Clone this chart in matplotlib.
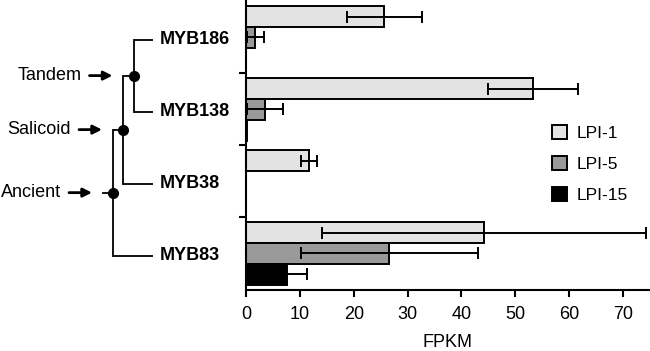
import numpy as np
import matplotlib
matplotlib.use("Agg")
import matplotlib.pyplot as plt
from matplotlib.patches import Patch

plt.rcParams['font.family'] = ['Liberation Sans', 'DejaVu Sans']

# data (FPKM, mean and sd)
genes = ['MYB186', 'MYB138', 'MYB38', 'MYB83']
series = ['LPI-1', 'LPI-5', 'LPI-15']
lpi1 = [25.7, 53.3, 11.7, 44.2]
lpi1_sd = [6.9, 8.3, 1.4, 30.1]
lpi5 = [1.75, 3.5, 0.0, 26.6]
lpi5_sd = [1.5, 3.4, 0.0, 16.4]
lpi15 = [0.0, 0.15, 0.0, 7.7]
lpi15_sd = [0.0, 0.0, 0.0, 3.6]
colors = ['#e3e3e3', '#999999', '#000000']

# tree: (node label, child a, child b)
nodes = [('Tandem', 'MYB186', 'MYB138'),
         ('Salicoid', 'Tandem', 'MYB38'),
         ('Ancient', 'Salicoid', 'MYB83')]
node_x = {'Tandem': 133.5, 'Salicoid': 123, 'Ancient': 113}
leaf_x = 153

W, H = 650, 351
fig = plt.figure(figsize=(W / 100, H / 100), dpi=100)
ax = fig.add_axes([246 / W, (H - 290) / H, (W - 246) / W, 290 / H])
tree = fig.add_axes([0, (H - 290) / H, 246 / W, 290 / H], sharey=ax)

# bars
y = np.arange(len(genes))
bh = 0.29
vals = [lpi1, lpi5, lpi15]
sds = [lpi1_sd, lpi5_sd, lpi15_sd]
for k, (v, sd, c) in enumerate(zip(vals, sds, colors)):
    yy = y + (k - 1) * bh
    ax.barh(yy, v, height=bh, color=c, edgecolor='black', linewidth=1.4, zorder=2)
    v = np.array(v); sd = np.array(sd)
    m = sd > 0
    ax.errorbar(v[m], yy[m], xerr=sd[m], fmt='none', ecolor='black',
                elinewidth=1.4, capsize=4.5, capthick=1.4, zorder=3)

ax.set_ylim(3.507, -0.52)
ax.set_xlim(0, 75)
ax.set_xticks(range(0, 80, 10))
ax.set_yticks(y[:-1] + 0.5)
ax.set_yticklabels([])
for s in ['top', 'right']:
    ax.spines[s].set_visible(False)
for s in ['left', 'bottom']:
    ax.spines[s].set_linewidth(1.5)
ax.tick_params(axis='both', width=1.5, length=5, labelsize=13, direction='out')
ax.tick_params(axis='x', pad=6.5)
ax.set_xlabel('FPKM', fontsize=13, labelpad=8)

handles = [Patch(facecolor=c, edgecolor='black', linewidth=1.4) for c in colors]
ax.legend(handles, series, loc='upper left', bbox_to_anchor=(0.757, 0.568),
          frameon=False, fontsize=12.5, handlelength=0.85, handleheight=0.85,
          handletextpad=0.6, labelspacing=0.85, borderpad=0, borderaxespad=0)

# tree
tree.axis('off')
tree.set_xlim(0, 246)
pos = {g: (leaf_x, i + 0.03) for i, g in enumerate(genes)}
for name, a, b in nodes:
    x = node_x[name]
    ya, yb = pos[a][1], pos[b][1]
    for ch in (a, b):
        tree.plot([x, pos[ch][0]], [pos[ch][1], pos[ch][1]], color='black', lw=1.3,
                  solid_capstyle='butt')
    tree.plot([x, x], [ya, yb], color='black', lw=1.3)
    ym = (ya + yb) / 2
    pos[name] = (x, ym)
    tree.plot(x, ym, 'o', color='black', ms=7, zorder=3)
    tree.annotate('', xy=(x - 21, ym), xytext=(x - 44, ym),
                  arrowprops=dict(arrowstyle='-|>', lw=2, color='black', mutation_scale=13,
                                  shrinkA=0, shrinkB=0))
    tree.text(x - 52, ym, name, ha='right', va='center', fontsize=13)

# stub to the left of the root
rx, ry = pos[nodes[-1][0]]
tree.plot([rx - 10, rx], [ry, ry], color='black', lw=1.3)

for g in genes:
    tree.text(leaf_x + 7, pos[g][1], g, ha='left', va='center', fontsize=13, fontweight='bold')

fig.savefig('out.png', dpi=100)
